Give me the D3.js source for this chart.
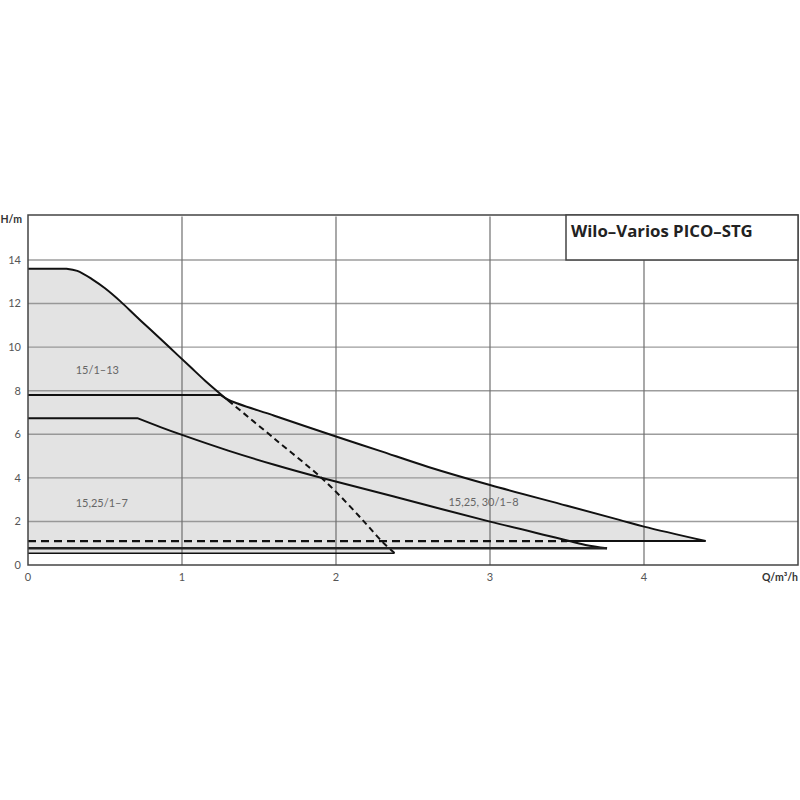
<!DOCTYPE html>
<html>
<head>
<meta charset="utf-8">
<script src="https://cdn.jsdelivr.net/npm/d3@7"></script>
<style>
  html, body { margin: 0; padding: 0; background: #fff; }
  svg { display: block; font-family: Lato, "Open Sans", sans-serif; }
</style>
</head>
<body>
<svg id="chart" width="800" height="800"></svg>
<script>
// ---- Data ----
const title = "Wilo–Varios PICO–STG";
const xTicks = [0, 1, 2, 3, 4];
const yTicks = [0, 2, 4, 6, 8, 10, 12, 14];
const xLabel = "Q/m³/h";
const yLabel = "H/m";

// 15/1-13 max curve (solid up to Q=1.3, dashed beyond); flat up to index 1
const q13 = [0, 0.25, 0.32, 0.42, 0.5, 0.6, 0.7, 0.8, 0.92, 1.05, 1.15, 1.3, 1.6, 1.91, 2.07, 2.2, 2.3, 2.38];
const h13 = [13.6, 13.6, 13.5, 13.1, 12.7, 12.1, 11.43, 10.77, 9.98, 9.12, 8.46, 7.55, 5.8, 3.97, 2.85, 1.85, 1.07, 0.55];
const dashFrom13 = 1.3;
const min13 = 0.54;

// 15,25,30/1-8 max curve; flat up to index 1
const q8 = [0, 1.25, 1.31, 1.6, 2.0, 2.28, 2.6, 3.0, 3.5, 3.84, 4.0, 4.4];
const h8 = [7.8, 7.8, 7.55, 6.85, 5.9, 5.25, 4.5, 3.67, 2.72, 2.07, 1.76, 1.1];
const min8 = 1.1;
const dashTo8 = 3.5;   // min line dashed up to here, solid after

// 15,25/1-7 max curve; flat up to index 1
const q7 = [0, 0.71, 0.86, 1.0, 1.3, 1.6, 1.91, 2.4, 3.0, 3.45, 3.62, 3.76];
const h7 = [6.74, 6.74, 6.33, 5.97, 5.25, 4.6, 3.99, 3.1, 1.99, 1.22, 0.92, 0.77];
const min7 = 0.77;

const labels = [
  { text: "15/1–13", q: 0.31, h: 8.95 },
  { text: "15,25/1–7", q: 0.31, h: 2.85 },
  { text: "15,25, 30/1–8", q: 2.73, h: 2.9 }
];

// ---- Scales ----
const svg = d3.select("#chart");
const x = d3.scaleLinear().domain([0, 5]).range([28, 798]);
const y = d3.scaleLinear().domain([0, 16]).range([565, 216.4]);

const pts = (qs, hs) => qs.map((q, i) => [q, hs[i]]);
const smooth = d3.line().x(d => x(d[0])).y(d => y(d[1])).curve(d3.curveCatmullRom.alpha(0.5));
const poly = d3.line().x(d => x(d[0])).y(d => y(d[1]));

// flat segment (first two points) drawn straight, rest smooth
function curvePath(P) {
  const head = "M" + x(P[0][0]) + "," + y(P[0][1]);
  return head + smooth(P.slice(1)).replace(/^M/, "L");
}

const P13 = pts(q13, h13), P8 = pts(q8, h8), P7 = pts(q7, h7);
const fill = "#e3e3e3";

// ---- Shaded regions ----
function region(P, minH) {
  const last = P[P.length - 1];
  svg.append("path")
    .attr("d", curvePath(P) + "L" + x(last[0]) + "," + y(minH) + "L" + x(0) + "," + y(minH) + "Z")
    .attr("fill", fill).attr("stroke", "none");
}
region(P13, min13);
region(P8, min8);
region(P7, min7);

// ---- Grid ----
const grid = svg.append("g");
grid.selectAll("line.h").data(yTicks.filter(d => d > 0)).join("line")
  .attr("x1", x(0)).attr("x2", x(5))
  .attr("y1", d => y(d)).attr("y2", d => y(d))
  .attr("stroke", "#8c8c8c").attr("stroke-width", 1.4).attr("opacity", 0.85);
grid.selectAll("line.v").data(xTicks.filter(d => d > 0)).join("line")
  .attr("x1", d => x(d)).attr("x2", d => x(d))
  .attr("y1", y(0)).attr("y2", y(16))
  .attr("stroke", "#6f6f6f").attr("stroke-width", 1.2);

// ---- Curves ----
const curves = svg.append("g").attr("fill", "none").attr("stroke", "#111").attr("stroke-width", 2);
const i13 = q13.indexOf(dashFrom13);
curves.append("path").attr("d", curvePath(P13.slice(0, i13 + 1)));
curves.append("path").attr("d", smooth(P13.slice(i13)))
  .attr("stroke-dasharray", "6,4");
curves.append("path").attr("d", curvePath(P8));
curves.append("path").attr("d", curvePath(P7));

// minimum lines
curves.append("path").attr("d", poly([[0, min13], [q13[q13.length - 1], min13]])).attr("stroke-width", 1.6);
curves.append("path").attr("d", poly([[0, min7], [q7[q7.length - 1], min7]])).attr("stroke-width", 2.4).attr("stroke", "#222");
curves.append("path").attr("d", poly([[0, min8], [dashTo8, min8]])).attr("stroke-dasharray", "8,5").attr("stroke-width", 2.2);
curves.append("path").attr("d", poly([[dashTo8, min8], [q8[q8.length - 1], min8]])).attr("stroke-width", 2);

// ---- Frame ----
svg.append("rect")
  .attr("x", x(0)).attr("y", 215).attr("width", x(5) - x(0)).attr("height", y(0) - 215)
  .attr("fill", "none").attr("stroke", "#444").attr("stroke-width", 1.5);

// ---- Title box ----
svg.append("rect")
  .attr("x", 566).attr("y", 215).attr("width", x(5) - 566).attr("height", y(14) - 215)
  .attr("fill", "#fff").attr("stroke", "#444").attr("stroke-width", 1.5);
svg.append("text").attr("x", 571).attr("y", 237)
  .attr("font-family", "'Open Sans', Lato, sans-serif")
  .attr("font-size", 16.8).attr("font-weight", "bold").attr("fill", "#222")
  .text(title);

// ---- Tick labels ----
svg.append("g").selectAll("text").data(yTicks).join("text")
  .attr("x", 21).attr("y", d => y(d)).attr("dy", "0.35em")
  .attr("text-anchor", "end").attr("font-size", 11).attr("fill", "#555")
  .text(d => d);
svg.append("g").selectAll("text").data(xTicks).join("text")
  .attr("x", d => x(d)).attr("y", 581)
  .attr("text-anchor", "middle").attr("font-size", 11).attr("fill", "#555")
  .text(d => d);
svg.append("text").attr("x", 22).attr("y", 223).attr("text-anchor", "end")
  .attr("font-size", 10.5).attr("font-weight", "bold").attr("fill", "#333").text(yLabel);
svg.append("text").attr("x", 798).attr("y", 581).attr("text-anchor", "end")
  .attr("font-size", 10.5).attr("font-weight", "bold").attr("fill", "#333").text(xLabel);

// ---- Region labels ----
svg.append("g").selectAll("text").data(labels).join("text")
  .attr("x", d => x(d.q)).attr("y", d => y(d.h)).attr("dy", "0.35em")
  .attr("font-size", 11).attr("fill", "#666")
  .text(d => d.text);
</script>
</body>
</html>
